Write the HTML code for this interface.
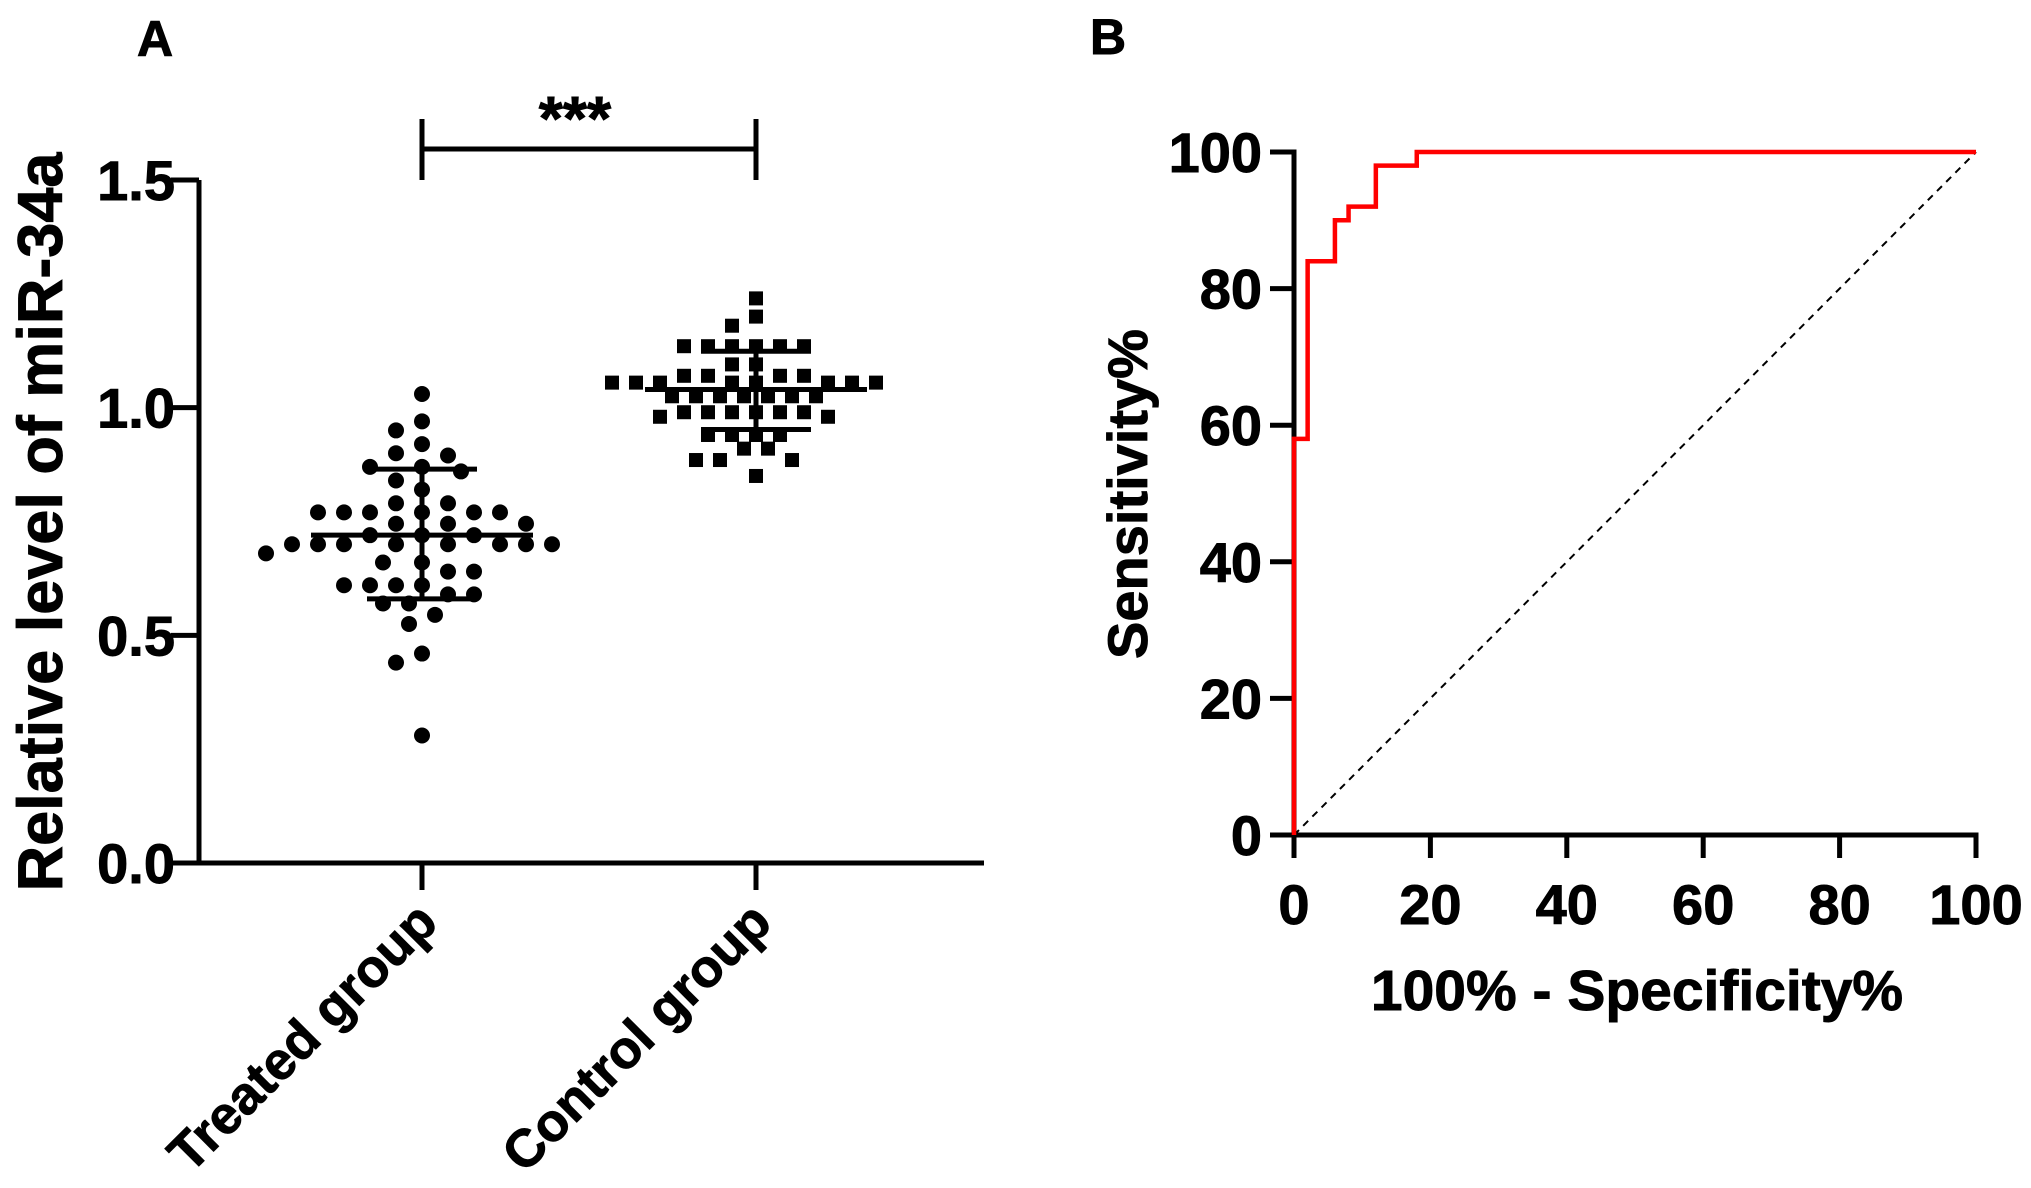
<!DOCTYPE html>
<html><head><meta charset="utf-8"><style>
html,body{margin:0;padding:0;background:#fff;}
svg{display:block;font-family:"Liberation Sans",Arial,sans-serif;font-weight:bold;}
svg text{stroke:#000;stroke-width:0.9px;}
</style></head><body>
<svg id="fig" width="2031" height="1188" viewBox="0 0 2031 1188">
<text x="155" y="56" font-size="50" text-anchor="middle">A</text>
<text x="1108" y="54" font-size="50" text-anchor="middle">B</text>
<g id="panelA"></g>
<g id="panelB"></g>
</svg>
<script>
// ---- Panel A data ----
const groupNames = ["Treated group", "Control group"];
const treatedValues = [1.03,0.97,0.95,0.92,0.90,0.895,0.87,0.87,0.86,0.84,0.82,0.79,0.79,0.77,0.77,0.77,0.77,0.77,0.77,0.745,0.745,0.745,0.72,0.72,0.72,0.70,0.70,0.70,0.70,0.70,0.70,0.70,0.70,0.68,0.66,0.66,0.64,0.64,0.61,0.61,0.61,0.61,0.59,0.59,0.57,0.57,0.545,0.525,0.46,0.44,0.28];
const controlValues = [1.24,1.20,1.18,1.135,1.135,1.135,1.135,1.135,1.135,1.095,1.095,1.07,1.07,1.07,1.07,1.055,1.055,1.055,1.055,1.055,1.055,1.055,1.055,1.025,1.025,1.025,1.025,1.025,1.025,1.025,0.99,0.99,0.99,0.99,0.99,0.99,0.98,0.98,0.94,0.94,0.94,0.94,0.91,0.91,0.885,0.885,0.885,0.85];
const groupMeans = [0.72, 1.04];
const groupSDlow = [0.58, 0.952];
const groupSDhigh = [0.865, 1.124];
const yTicksA = [0.0, 0.5, 1.0, 1.5];
const yTickLabelsA = ["0.0", "0.5", "1.0", "1.5"];
// ---- Panel B data ----
const rocFPR = [0,0,2,2,6,6,8,8,12,12,18,18,100];
const rocTPR = [0,58,58,84,84,90,90,92,92,98,98,100,100];
const xTicksB = [0,20,40,60,80,100];
const yTicksB = [0,20,40,60,80,100];

const NS = "http://www.w3.org/2000/svg";
function mk(parent, tag, attrs, text){
  const e = document.createElementNS(NS, tag);
  for (const k in attrs) e.setAttribute(k, attrs[k]);
  if (text !== undefined) e.textContent = text;
  parent.appendChild(e);
  return e;
}

// ===== Panel A =====
const A = document.getElementById('panelA');
const axA = {x0:199, x1:984, y0:863, y1:180, vmax:1.5};
const yA = v => axA.y0 - v/axA.vmax*(axA.y0-axA.y1);
const groupX = [422, 756];

let e = mk(A,'line',{x1:axA.x0,y1:axA.y1,x2:axA.x0,y2:axA.y0+2.5,stroke:'#000','stroke-width':5});


e = mk(A,'line',{x1:axA.x0-2.5,y1:axA.y0,x2:axA.x1,y2:axA.y0,stroke:'#000','stroke-width':5});


yTicksA.forEach((t,i)=>{
  const y = yA(t);
  let l = mk(A,'line',{x1:171,y1:y,x2:axA.x0,y2:y,stroke:'#000','stroke-width':5});
  
  
  let tx = mk(A,'text',{x:175,y:y+20,'font-size':56,'text-anchor':'end'},yTickLabelsA[i]);
  
  
});
groupNames.forEach((g,i)=>{
  const x = groupX[i];
  let l = mk(A,'line',{x1:x,y1:axA.y0,x2:x,y2:890,stroke:'#000','stroke-width':5});
  
  
  let tx = mk(A,'text',{x:x+18,y:925,'font-size':53,'text-anchor':'end',transform:`rotate(-45 ${x+18} 925)`},g);
  
  
});
e = mk(A,'text',{x:62,y:522,'font-size':63,'text-anchor':'middle',transform:'rotate(-90 62 522)'},'Relative level of miR-34a');



// beeswarm: offsets in half-spacing steps, collision on true distance
function swarm(values, cx, step, minD){
  const sorted = values.slice().sort((a,b)=>b-a);
  const placed = [];
  sorted.forEach(v=>{
    const y = yA(v);
    for (let k=0;k<80;k++){
      const off = (k===0)?0:(Math.ceil(k/2)*step*(k%2?-1:1));
      const x = cx+off;
      if (placed.every(p=>Math.hypot(p.x-x,p.y-y)>=minD)){ placed.push({x,y}); break; }
    }
  });
  return placed;
}
swarm(treatedValues, groupX[0], 13, 19).forEach(p=>{
  let c = mk(A,'circle',{cx:p.x,cy:p.y,r:8,fill:'#000'});
  
  
});
swarm(controlValues, groupX[1], 12, 17).forEach(p=>{
  let r = mk(A,'rect',{x:p.x-7,y:p.y-7,width:14,height:14,fill:'#000'});
  
  
});
groupX.forEach((x,i)=>{
  let m = mk(A,'line',{x1:x-111,y1:yA(groupMeans[i]),x2:x+111,y2:yA(groupMeans[i]),stroke:'#000','stroke-width':5});
  
  
  let v = mk(A,'line',{x1:x,y1:yA(groupSDhigh[i]),x2:x,y2:yA(groupSDlow[i]),stroke:'#000','stroke-width':5});
  
  
  [groupSDhigh[i],groupSDlow[i]].forEach(s=>{
    let c = mk(A,'line',{x1:x-55,y1:yA(s),x2:x+55,y2:yA(s),stroke:'#000','stroke-width':5});
    
    
  });
});
e = mk(A,'path',{d:`M${groupX[0]} 180 V119 M${groupX[0]} 149 H${groupX[1]} M${groupX[1]} 119 V180`,stroke:'#000','stroke-width':5,fill:'none'});


e = mk(A,'text',{x:575,y:140,'font-size':62,'text-anchor':'middle'},'***');



// ===== Panel B =====
const B = document.getElementById('panelB');
const axB = {x0:1294, x1:1976, y0:835, y1:152};
const xB = v => axB.x0 + v/100*(axB.x1-axB.x0);
const yB = v => axB.y0 - v/100*(axB.y0-axB.y1);
e = mk(B,'line',{x1:axB.x0,y1:axB.y1-2.5,x2:axB.x0,y2:axB.y0+2.5,stroke:'#000','stroke-width':5});


e = mk(B,'line',{x1:axB.x0-2.5,y1:axB.y0,x2:axB.x1+2.5,y2:axB.y0,stroke:'#000','stroke-width':5});


yTicksB.forEach(t=>{
  const y = yB(t);
  let l = mk(B,'line',{x1:1270,y1:y,x2:axB.x0,y2:y,stroke:'#000','stroke-width':5});
  
  
  let tx = mk(B,'text',{x:1262,y:y+20,'font-size':56,'text-anchor':'end'},String(t));
  
  
});
xTicksB.forEach(t=>{
  const x = xB(t);
  let l = mk(B,'line',{x1:x,y1:axB.y0,x2:x,y2:858,stroke:'#000','stroke-width':5});
  
  
  let tx = mk(B,'text',{x:x,y:924,'font-size':56,'text-anchor':'middle'},String(t));
  
  
});
e = mk(B,'line',{x1:xB(0),y1:yB(0),x2:xB(100),y2:yB(100),stroke:'#000','stroke-width':2,'stroke-dasharray':'7,6'});


e = mk(B,'polyline',{points:rocFPR.map((f,i)=>xB(f)+','+yB(rocTPR[i])).join(' '),fill:'none',stroke:'#ff0000','stroke-width':4.5,'stroke-linejoin':'miter'});


e = mk(B,'text',{x:1147,y:494,'font-size':56,'text-anchor':'middle',transform:'rotate(-90 1147 494)'},'Sensitivity%');


e = mk(B,'text',{x:1637,y:1010,'font-size':57,'text-anchor':'middle'},'100% - Specificity%');


</script>
</body></html>
